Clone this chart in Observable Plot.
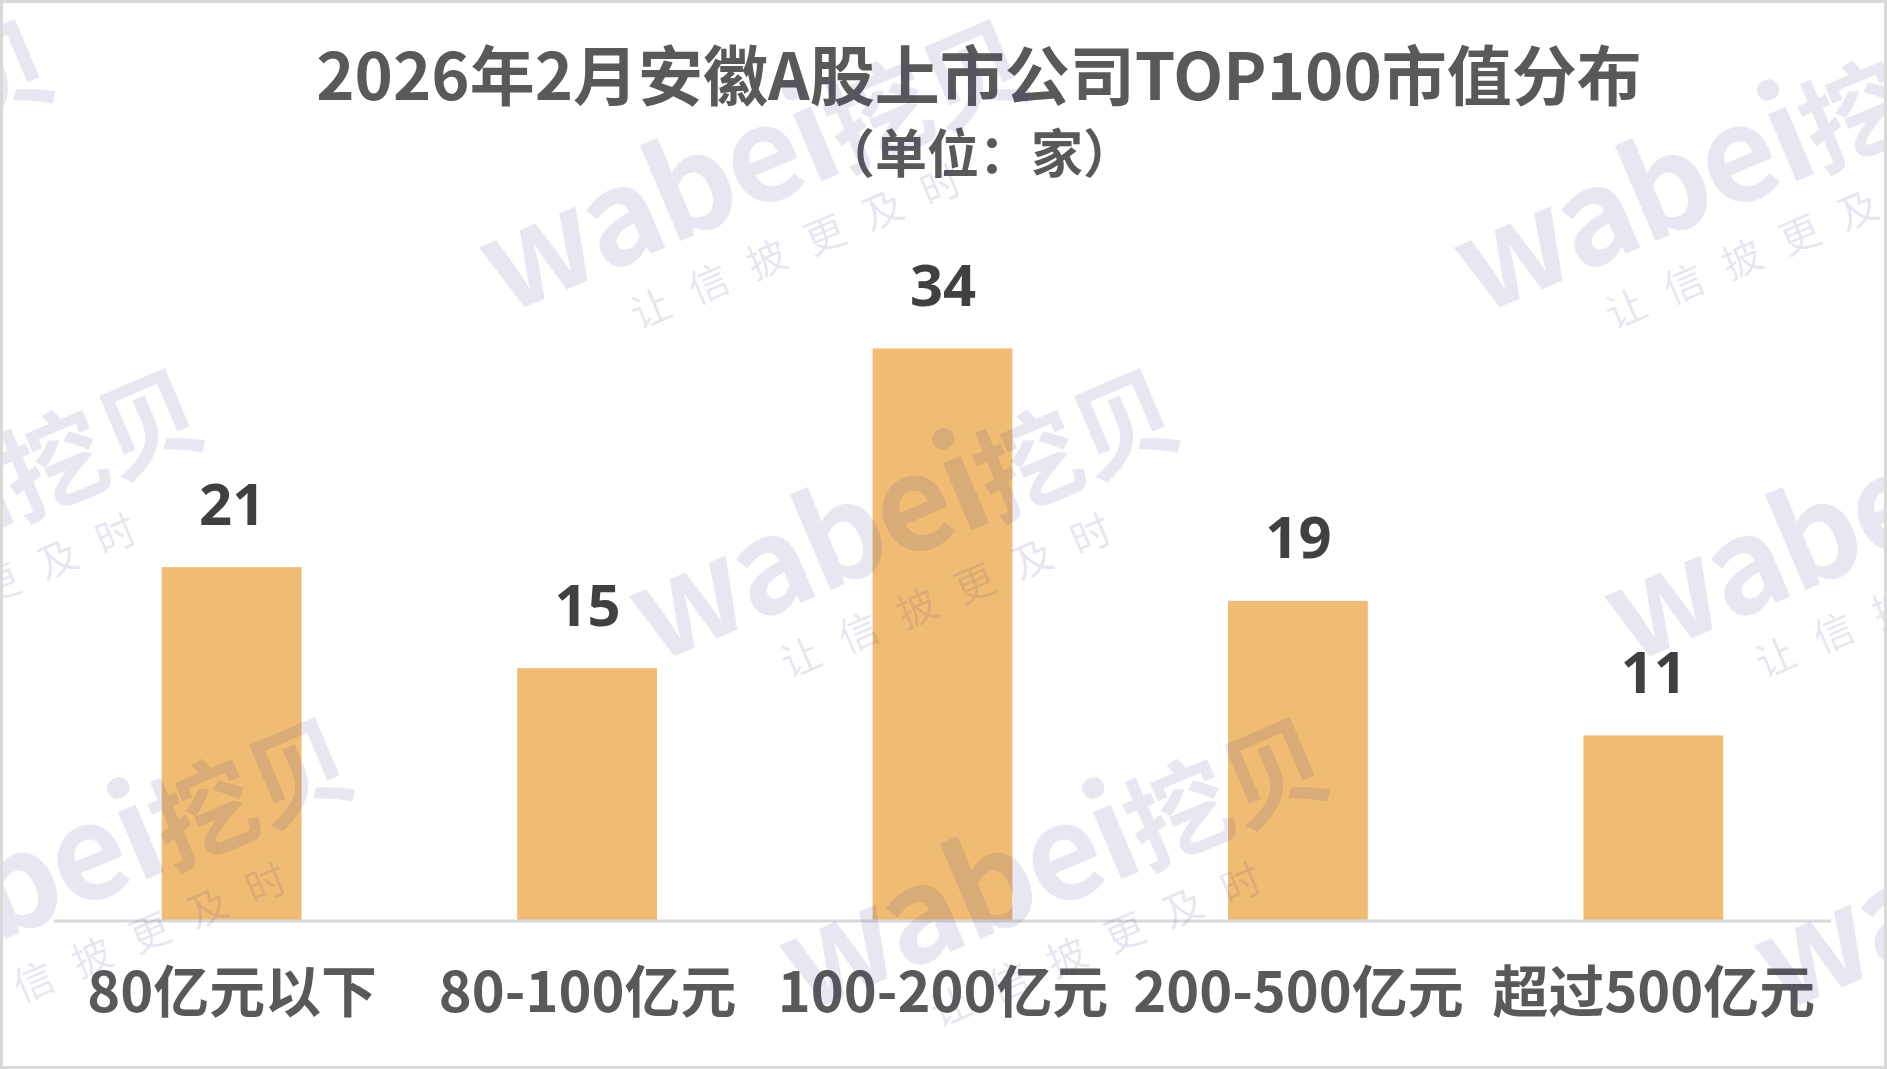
<!DOCTYPE html>
<html>
<head>
<meta charset="utf-8">
<script src="https://cdn.jsdelivr.net/npm/d3@7"></script>
<script src="https://cdn.jsdelivr.net/npm/@observablehq/plot@0.6"></script>
<style>
  html, body { margin: 0; padding: 0; background: #fff; }
  #frame {
    position: relative; width: 1887px; height: 1069px; box-sizing: border-box;
    border: 3px solid #d9d9d9; background: #fff; overflow: hidden;
  }
  .title {
    position: absolute; left: 976px; transform: translateX(-50%);
    font-family: "Noto Sans CJK SC", "Noto Sans", sans-serif; font-weight: 700;
    color: #595959; line-height: 1; white-space: nowrap;
  }
  #t1 { top: 37px; font-size: 65px; }
  #t2 { top: 122px; font-size: 52px; }
  #chart { position: absolute; left: -3px; top: -3px; }
  #wm { position: absolute; left: -3px; top: -3px; pointer-events: none; }
</style>
</head>
<body>
<div id="frame">
  <div id="chart"></div>
  <div class="title" id="t1">2026年2月安徽A股上市公司TOP100市值分布</div>
  <div class="title" id="t2">（单位：家）</div>
  <svg id="wm" width="1887" height="1069"></svg>
</div>
<script>
// ---- data ----
const categories = ["80亿元以下", "80-100亿元", "100-200亿元", "200-500亿元", "超过500亿元"];
const counts = [21, 15, 34, 19, 11];

const data = categories.map((c, i) => ({category: c, count: counts[i]}));

const chart = Plot.plot({
  width: 1887,
  height: 1069,
  marginLeft: 54,
  marginRight: 53,
  marginTop: 349,
  marginBottom: 147,
  style: {background: "transparent", overflow: "visible", fontFamily: "'Noto Sans CJK SC', sans-serif"},
  x: {domain: categories, paddingInner: 0.607, paddingOuter: 0.3035, label: null},
  y: {domain: [0, 34], axis: null},
  marks: [
    Plot.barY(data, {x: "category", y: "count", fill: "#F0BB72"}),
    Plot.ruleY([0], {stroke: "#D9D9D9", strokeWidth: 3}),
    Plot.text(data, {
      x: "category", y: "count", text: d => String(d.count),
      dy: -43, lineAnchor: "bottom",
      fontSize: 58, fontWeight: 700, fill: "#404040", fontFamily: "'Open Sans', sans-serif"
    }),
    Plot.axisX({
      tickSize: 0, tickPadding: 51, fontSize: 56, fontWeight: 700,
      fill: "#595959", fontFamily: "'Noto Sans CJK SC', sans-serif", label: null
    })
  ]
});
document.getElementById("chart").appendChild(chart);

// ---- watermark tiling (decoration) ----
const wm = d3.select("#wm");
const wmColor = "rgba(60,60,150,0.12)";
for (let k = -2; k <= 2; k++) {
  for (let c = -2; c <= 2; c++) {
    const ox = 654 + 150 * k + 975 * c;
    const oy = 665 + 349 * k;
    const g = wm.append("g").attr("transform", `translate(${ox},${oy}) rotate(-23)`);
    const t = g.append("text")
      .attr("x", 0).attr("y", 0)
      .attr("font-family", "'Noto Sans CJK SC', sans-serif")
      .attr("font-weight", 700)
      .attr("fill", wmColor);
    t.append("tspan").attr("font-size", 130).attr("letter-spacing", -3).text("wabei");
    t.append("tspan").attr("font-size", 104).text("挖贝");
    g.append("text")
      .attr("x", 118).attr("y", 65)
      .attr("font-family", "'Noto Sans CJK SC', sans-serif")
      .attr("font-weight", 400)
      .attr("font-size", 40)
      .attr("letter-spacing", 23)
      .attr("fill", wmColor)
      .text("让信披更及时");
  }
}
</script>
</body>
</html>
